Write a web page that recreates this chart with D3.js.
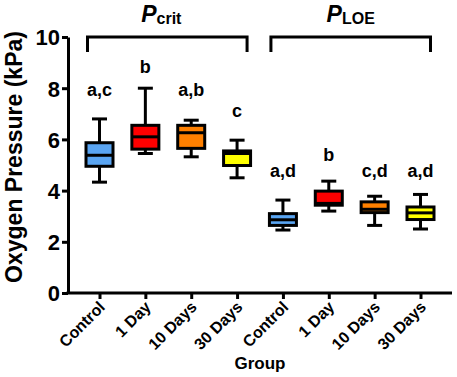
<!DOCTYPE html>
<html><head><meta charset="utf-8">
<script src="https://cdn.jsdelivr.net/npm/d3@7"></script>
<style>
body{margin:0;background:#fff;}
svg{display:block;font-family:"Liberation Sans",Arial,sans-serif;font-weight:bold;}
.axis path,.axis line{stroke:#000;stroke-width:3px;}
.axis text{font-weight:bold;fill:#000;}
</style></head><body>
<svg id="c" width="457" height="377"></svg>
<script>
// ---- data ----
const categories = ["Control","1 Day","10 Days","30 Days","Control","1 Day","10 Days","30 Days"];
const whiskerLow  = [4.33,5.45,5.32,4.50,2.46,3.20,2.64,2.50];
const quartile1   = [4.95,5.62,5.65,4.98,2.64,3.43,3.14,2.87];
const median      = [5.38,6.10,6.26,5.45,2.86,3.50,3.27,3.13];
const quartile3   = [5.87,6.55,6.55,5.55,3.10,3.98,3.56,3.36];
const whiskerHigh = [6.80,8.00,6.75,5.97,3.63,4.37,3.78,3.85];
const boxColors   = ["#5aa5f2","#ff0000","#ff8000","#ffff00","#5aa5f2","#ff0000","#ff8000","#ffff00"];
const letters     = ["a,c","b","a,b","c","a,d","b","c,d","a,d"];
const letterLevel = [7.70,8.60,7.70,6.86,4.55,5.14,4.55,4.55];
const groups = [{name:"P",sub:"crit",from:0,to:3},{name:"P",sub:"LOE",from:4,to:7}];
const yTicks = [0,2,4,6,8,10];

// ---- layout ----
const svg = d3.select("#c");
const x0 = 68, x1 = 452, yTop = 37, yBot = 293;
const x = d3.scalePoint().domain(d3.range(categories.length)).range([x0,x1]).padding(0.687);
const y = d3.scaleLinear().domain([0,10]).range([yBot,yTop]);

// y axis
const ya = svg.append("g").attr("class","axis").attr("transform",`translate(${x0},0)`)
  .call(d3.axisLeft(y).tickValues(yTicks).tickSize(6).tickSizeOuter(0).tickPadding(2).tickFormat(d3.format("d")));
ya.selectAll("text").attr("font-size",22).attr("dy","0.36em");
// x axis
const xa = svg.append("g").attr("class","axis").attr("transform",`translate(0,${yBot})`)
  .call(d3.axisBottom(x).tickSize(6).tickSizeOuter(0).tickFormat(i=>categories[i]));
xa.select(".domain").attr("d",`M${x0-1.5},0H${x1}`);
xa.selectAll("text").attr("font-size",16).attr("text-anchor","end")
  .attr("y",0).attr("dy",0)
  .attr("transform","translate(6,15) rotate(-45)");

// axis titles
svg.append("text").attr("transform","translate(22,157) rotate(-90)").attr("text-anchor","middle")
  .attr("font-size",23).text("Oxygen Pressure (kPa)");
svg.append("text").attr("x",(x0+x1)/2).attr("y",369).attr("text-anchor","middle")
  .attr("font-size",17).text("Group");

// boxes
const bw = 27, cw = 15;
const g = svg.append("g").selectAll("g").data(categories).join("g");
g.append("line").attr("x1",(d,i)=>x(i)).attr("x2",(d,i)=>x(i))
  .attr("y1",(d,i)=>y(whiskerHigh[i])).attr("y2",(d,i)=>y(whiskerLow[i]))
  .attr("stroke","#000").attr("stroke-width",3);
g.append("line").attr("x1",(d,i)=>x(i)-cw/2).attr("x2",(d,i)=>x(i)+cw/2)
  .attr("y1",(d,i)=>y(whiskerHigh[i])).attr("y2",(d,i)=>y(whiskerHigh[i]))
  .attr("stroke","#000").attr("stroke-width",3);
g.append("line").attr("x1",(d,i)=>x(i)-cw/2).attr("x2",(d,i)=>x(i)+cw/2)
  .attr("y1",(d,i)=>y(whiskerLow[i])).attr("y2",(d,i)=>y(whiskerLow[i]))
  .attr("stroke","#000").attr("stroke-width",3);
g.append("rect").attr("x",(d,i)=>x(i)-bw/2).attr("width",bw)
  .attr("y",(d,i)=>y(quartile3[i])).attr("height",(d,i)=>y(quartile1[i])-y(quartile3[i]))
  .attr("fill",(d,i)=>boxColors[i]).attr("stroke","#000").attr("stroke-width",3);
g.append("line").attr("x1",(d,i)=>x(i)-bw/2).attr("x2",(d,i)=>x(i)+bw/2)
  .attr("y1",(d,i)=>y(median[i])).attr("y2",(d,i)=>y(median[i]))
  .attr("stroke","#000").attr("stroke-width",3);
g.append("text").attr("x",(d,i)=>x(i)).attr("y",(d,i)=>y(letterLevel[i]))
  .attr("text-anchor","middle").attr("font-size",18).text((d,i)=>letters[i]);

// group brackets + titles
groups.forEach(gr=>{
  const a = x(gr.from)-12, b = x(gr.to)+10;
  svg.append("path").attr("d",`M${a},${yTop+15}V${yTop}H${b}V${yTop+15}`)
    .attr("fill","none").attr("stroke","#000").attr("stroke-width",3);
  const t = svg.append("text").attr("x",(a+b)/2 - (gr.sub==="crit"?6:0)).attr("y",22).attr("text-anchor","middle");
  t.append("tspan").attr("font-size",23).attr("font-style","italic").text(gr.name);
  t.append("tspan").attr("font-size",16).attr("dy",2).text(gr.sub);
});
</script></body></html>
